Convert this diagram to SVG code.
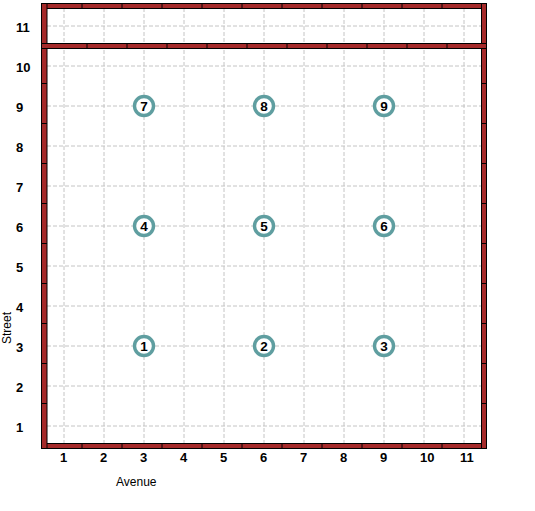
<svg xmlns="http://www.w3.org/2000/svg" width="535" height="511" viewBox="0 0 535 511">
<style>
.grid{stroke:#c4c4c4;stroke-width:1;stroke-dasharray:4,2;fill:none}
.wall{fill:#a52a2a;stroke:#000;stroke-width:1}
.sep{stroke:#000;stroke-width:1}
.lbl{font-family:"Liberation Sans",Arial,sans-serif;font-size:13px;font-weight:bold;fill:#000}
.axis{font-family:"Liberation Sans",Arial,sans-serif;font-size:12px;fill:#000}
.node circle{fill:#fff;stroke:#5f9ea0;stroke-width:3.4}
.node text{font-family:"Liberation Sans",Arial,sans-serif;font-size:13.5px;font-weight:bold;fill:#000;text-anchor:middle}
</style>
<rect x="0" y="0" width="535" height="511" fill="#fff"/>
<g id="grid">
<path class="grid" d="M64,8V443M104,8V443M144,8V443M184,8V443M224,8V443M264,8V443M304,8V443M344,8V443M384,8V443M424,8V443M464,8V443"/>
<path class="grid" d="M47,26H481M47,66H481M47,106H481M47,146H481M47,186H481M47,226H481M47,266H481M47,306H481M47,346H481M47,386H481M47,426H481"/>
</g>
<g id="walls">
<rect class="wall" x="41.5" y="3.5" width="445" height="5"/>
<rect class="wall" x="41.5" y="443.5" width="445" height="5"/>
<path class="sep" d="M82,3.5V8.5M122,3.5V8.5M162,3.5V8.5M202,3.5V8.5M242,3.5V8.5M282,3.5V8.5M322,3.5V8.5M362,3.5V8.5M402,3.5V8.5M442,3.5V8.5"/>
<path class="sep" d="M82,443.5V448.5M122,443.5V448.5M162,443.5V448.5M202,443.5V448.5M242,443.5V448.5M282,443.5V448.5M322,443.5V448.5M362,443.5V448.5M402,443.5V448.5M442,443.5V448.5"/>
<rect class="wall" x="41.5" y="3.5" width="5.5" height="445"/>
<rect class="wall" x="481.5" y="3.5" width="5" height="445"/>
<path class="sep" d="M41.5,83.5H47M41.5,123.5H47M41.5,163.5H47M41.5,203.5H47M41.5,243.5H47M41.5,283.5H47M41.5,323.5H47M41.5,363.5H47M41.5,403.5H47"/>
<path class="sep" d="M481.5,83.5H486.5M481.5,123.5H486.5M481.5,163.5H486.5M481.5,203.5H486.5M481.5,243.5H486.5M481.5,283.5H486.5M481.5,323.5H486.5M481.5,363.5H486.5M481.5,403.5H486.5"/>
<rect class="wall" x="41.5" y="43.5" width="445" height="5"/>
<path class="sep" d="M87,43.5V48.5M127,43.5V48.5M167,43.5V48.5M207,43.5V48.5M247,43.5V48.5M287,43.5V48.5M327,43.5V48.5M367,43.5V48.5M407,43.5V48.5M447,43.5V48.5"/>
</g>
<g id="labels">
<text class="lbl" x="16" y="31.5">11</text>
<text class="lbl" x="16" y="71.5">10</text>
<text class="lbl" x="16" y="111.5">9</text>
<text class="lbl" x="16" y="151.5">8</text>
<text class="lbl" x="16" y="191.5">7</text>
<text class="lbl" x="16" y="231.5">6</text>
<text class="lbl" x="16" y="271.5">5</text>
<text class="lbl" x="16" y="311.5">4</text>
<text class="lbl" x="16" y="351.5">3</text>
<text class="lbl" x="16" y="391.5">2</text>
<text class="lbl" x="16" y="431.5">1</text>
<text class="lbl" x="60" y="462">1</text>
<text class="lbl" x="100" y="462">2</text>
<text class="lbl" x="140" y="462">3</text>
<text class="lbl" x="180" y="462">4</text>
<text class="lbl" x="220" y="462">5</text>
<text class="lbl" x="260" y="462">6</text>
<text class="lbl" x="300" y="462">7</text>
<text class="lbl" x="340" y="462">8</text>
<text class="lbl" x="380" y="462">9</text>
<text class="lbl" x="420" y="462">10</text>
<text class="lbl" x="460" y="462">11</text>
<text class="axis" x="116" y="486">Avenue</text>
<text class="axis" transform="translate(11,328) rotate(-90)" text-anchor="middle">Street</text>
</g>
<g id="connectors"></g>
<g id="node1" class="node"><circle cx="144" cy="346" r="9.5"/><text x="144" y="351">1</text></g>
<g id="node2" class="node"><circle cx="264" cy="346" r="9.5"/><text x="264" y="351">2</text></g>
<g id="node3" class="node"><circle cx="384" cy="346" r="9.5"/><text x="384" y="351">3</text></g>
<g id="node4" class="node"><circle cx="144" cy="226" r="9.5"/><text x="144" y="231">4</text></g>
<g id="node5" class="node"><circle cx="264" cy="226" r="9.5"/><text x="264" y="231">5</text></g>
<g id="node6" class="node"><circle cx="384" cy="226" r="9.5"/><text x="384" y="231">6</text></g>
<g id="node7" class="node"><circle cx="144" cy="106" r="9.5"/><text x="144" y="111">7</text></g>
<g id="node8" class="node"><circle cx="264" cy="106" r="9.5"/><text x="264" y="111">8</text></g>
<g id="node9" class="node"><circle cx="384" cy="106" r="9.5"/><text x="384" y="111">9</text></g>
</svg>
